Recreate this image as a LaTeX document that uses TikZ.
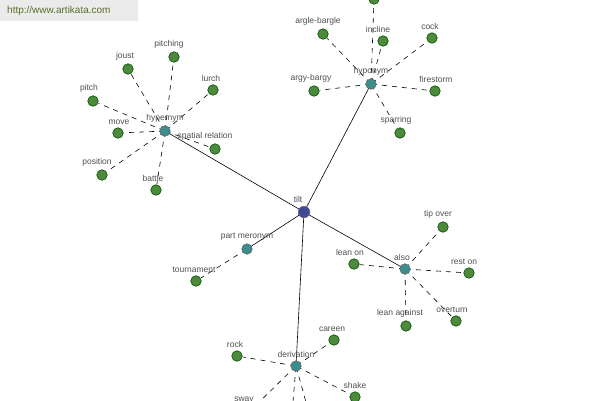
\documentclass[tikz,border=0pt]{standalone}
\usepackage{fontspec}
\setmainfont{Liberation Sans}
\begin{document}
\begin{tikzpicture}[x=1pt,y=-1pt,
  leaf/.style={circle,draw=black!70!green,line width=0.6pt,fill=leafc,minimum size=10.5pt,inner sep=0pt},
  mid/.style={circle,draw=black!60,line width=0.6pt,fill=midc,minimum size=10.5pt,inner sep=0pt},
  rootn/.style={circle,draw=black!60,line width=0.6pt,fill=rootc,minimum size=11.5pt,inner sep=0pt},
  lbl/.style={font=\fontsize{8.5}{10}\selectfont,text=labc,inner sep=0pt,anchor=south},
  rel/.style={draw=black,line width=0.6pt},
  dsh/.style={draw=black,line width=0.6pt,dash pattern=on 5pt off 5pt,shorten <=1pt,shorten >=6pt}]
\definecolor{leafc}{HTML}{4E8A3C}
\definecolor{midc}{HTML}{3A8E8E}
\definecolor{rootc}{HTML}{43479A}
\definecolor{labc}{HTML}{505050}
\useasboundingbox (0,0) rectangle (600,400);
\clip (0,0) rectangle (600,400);
\fill[white] (0,0) rectangle (600,400);
% watermark
\fill[black!8] (0,0) rectangle (138,21);
\node[font=\fontsize{10}{12}\selectfont,text={rgb,255:red,90;green,110;blue,40},anchor=west,inner sep=0pt] (wm) at (7,11) {http://www.artikata.com};

% central and intermediate nodes
\coordinate (tiltc) at (304,212);
\coordinate (hyperc) at (165,131);
\coordinate (hypoc) at (371,84);
\coordinate (partc) at (247,249);
\coordinate (alsoc) at (405,269);
\coordinate (derivc) at (296,366);

% leaf coordinates
\foreach \n/\x/\y in {joust/128/69, pitching/174/57, lurch/213/90, pitch/93/101, move/118/133, spatial/215/149, position/102/175, battle/156/190,
  htop/374/-1, argle/323/34, incline/383/41, cock/432/38, argy/314/91, firestorm/435/91, sparring/400/133,
  tournament/196/281,
  tipover/443/227, leanon/354/264, reston/469/273, leanagainst/406/326, overturn/456/321,
  rock/237/356, careen/334/340, shake/355/397, sway/249/412, dA/291/426, dB/312/424}
  {\coordinate (\n c) at (\x,\y);}

% solid relations
\foreach \m in {hyperc,hypoc,partc,alsoc,derivc}
  \draw[rel] (tiltc) -- (\m);

% dashed leaf links
\foreach \m/\l in {hyperc/joust, hyperc/pitching, hyperc/lurch, hyperc/pitch, hyperc/move, hyperc/spatial, hyperc/position, hyperc/battle,
  hypoc/htop, hypoc/argle, hypoc/incline, hypoc/cock, hypoc/argy, hypoc/firestorm, hypoc/sparring,
  partc/tournament,
  alsoc/tipover, alsoc/leanon, alsoc/reston, alsoc/leanagainst, alsoc/overturn,
  derivc/rock, derivc/careen, derivc/shake, derivc/sway, derivc/dA, derivc/dB}
  \draw[dsh] (\m) -- (\l c);

% nodes
\node[rootn] (tilt) at (tiltc) {};
\foreach \m in {hyper,hypo,part,also,deriv}
  \node[mid] (\m) at (\m c) {};
\foreach \n in {joust,pitching,lurch,pitch,move,spatial,position,battle,htop,argle,incline,cock,argy,firestorm,sparring,tournament,tipover,leanon,reston,leanagainst,overturn,rock,careen,shake,sway,dA,dB}
  \node[leaf] (\n) at (\n c) {};

% labels
\foreach \n/\t/\dx in {tilt/tilt/-6, hyper/hypernym/0, hypo/hyponym/0, part/part meronym/0, also/also/-3, deriv/derivation/0,
  joust/joust/-3, pitching/pitching/-5, lurch/lurch/-2, pitch/pitch/-4, move/move/1, spatial/spatial relation/-10, position/position/-5, battle/battle/-3,
  argle/argle-bargle/-5, incline/incline/-5, cock/cock/-2, argy/argy-bargy/-3, firestorm/firestorm/1, sparring/sparring/-4,
  tournament/tournament/-2, tipover/tip over/-5, leanon/lean on/-4, reston/rest on/-5, leanagainst/lean against/-6, overturn/overturn/-4,
  rock/rock/-2, careen/careen/-2, shake/shake/0, sway/sway/-5}
  \node[lbl] (\n-l) at ([xshift=\dx pt,yshift=3pt]\n.north) {\t};
\end{tikzpicture}
\end{document}
